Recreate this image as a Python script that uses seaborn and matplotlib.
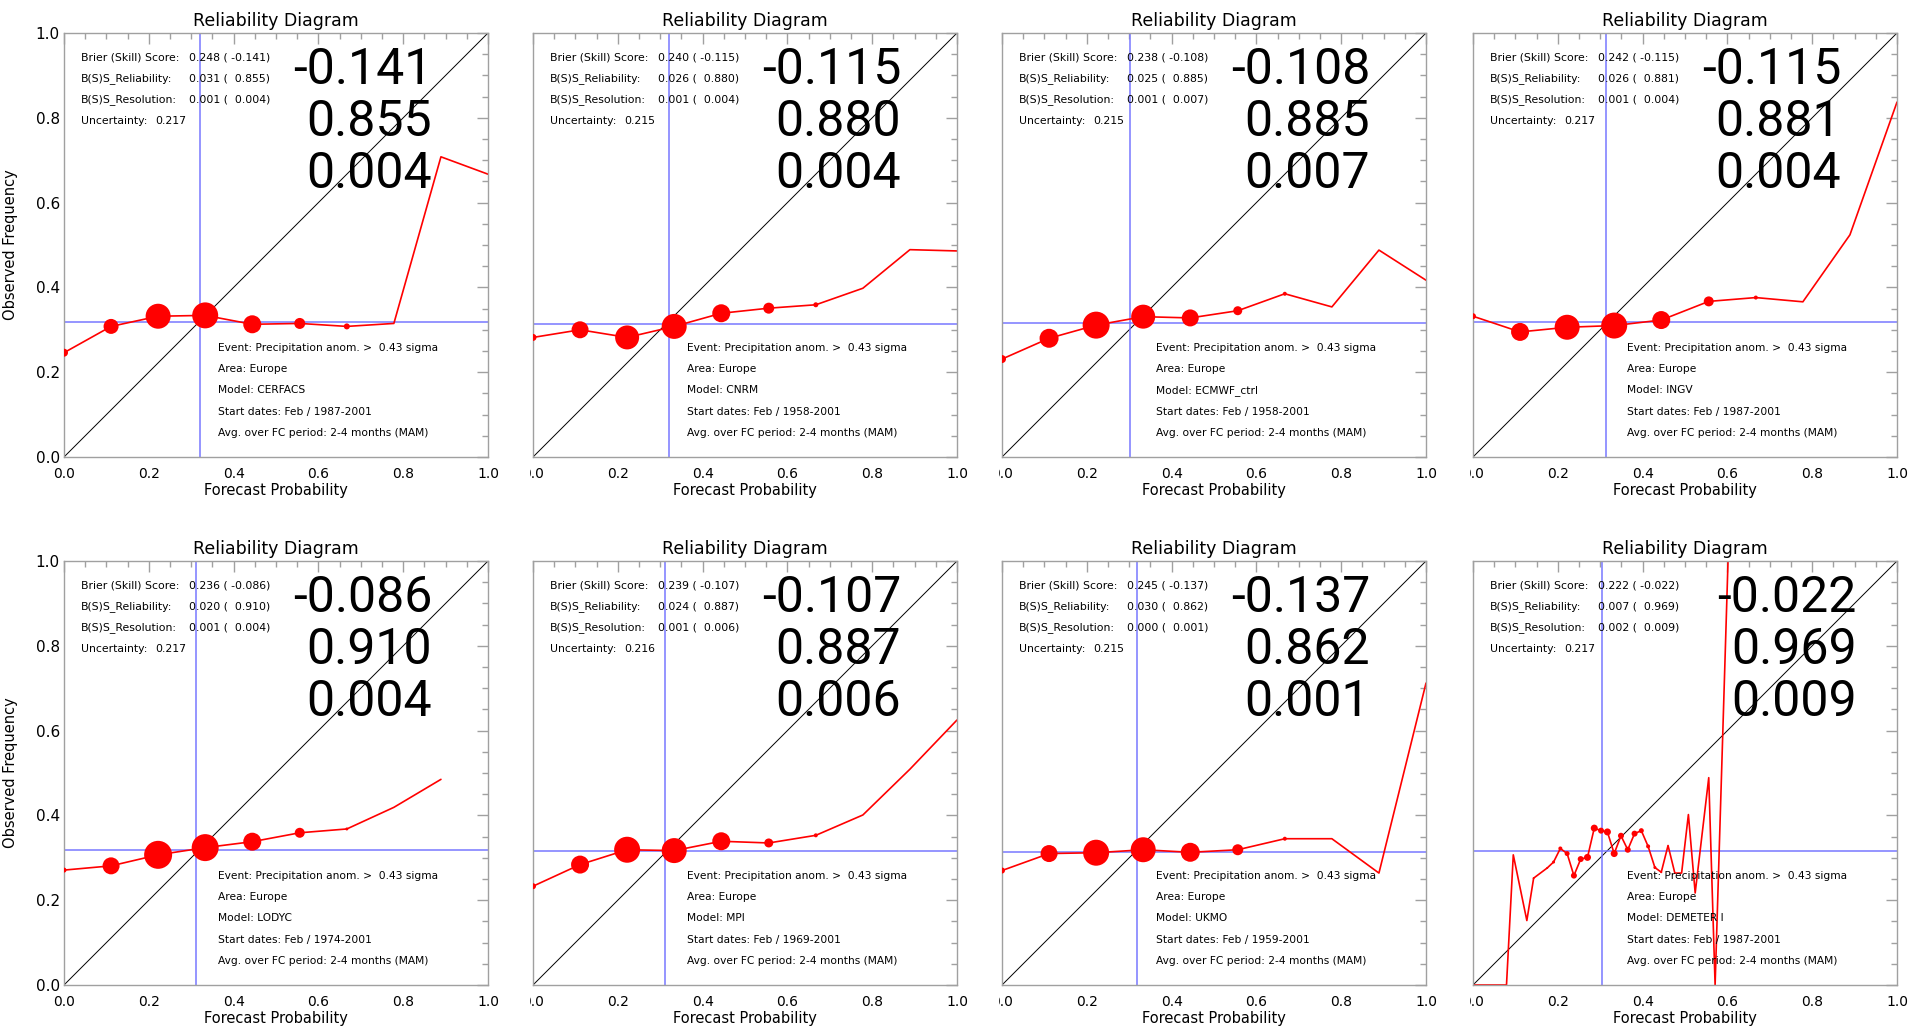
import numpy as np
import pandas as pd
import matplotlib
matplotlib.use('Agg')
import matplotlib.pyplot as plt
import seaborn as sns
from matplotlib.ticker import MultipleLocator, FormatStrFormatter
from matplotlib.transforms import Bbox, TransformedBbox

# Forecast probability bins (9 members -> 10 bins)
prob_bins = [0.0, 0.111, 0.222, 0.333, 0.444, 0.556, 0.667, 0.778, 0.889, 1.0]

# Observed frequency per single model
obs_cerfacs = [0.246, 0.308, 0.332, 0.334, 0.313, 0.315, 0.308, 0.315, 0.708, 0.667]
obs_cnrm = [0.282, 0.300, 0.282, 0.308, 0.339, 0.351, 0.359, 0.398, 0.489, 0.486]
obs_ecmwf = [0.231, 0.280, 0.311, 0.331, 0.328, 0.345, 0.385, 0.354, 0.488, 0.417]
obs_ingv = [0.332, 0.295, 0.306, 0.310, 0.323, 0.367, 0.376, 0.366, 0.524, 0.837]
obs_lodyc = [0.271, 0.281, 0.307, 0.324, 0.338, 0.359, 0.368, 0.419, 0.485]
obs_mpi = [0.233, 0.284, 0.319, 0.317, 0.339, 0.335, 0.353, 0.401, 0.509, 0.625]
obs_ukmo = [0.270, 0.310, 0.312, 0.319, 0.313, 0.319, 0.345, 0.345, 0.264, 0.712]

# Relative number of forecasts per bin (drawn as dot size)
dots_cerfacs = [8, 15, 25, 26, 18, 11, 6, 0, 0, 0]
dots_cnrm = [7, 17, 24, 25, 18, 11, 5, 0, 0, 0]
dots_ecmwf = [8, 19, 27, 24, 17, 9, 4, 0, 0, 0]
dots_ingv = [6, 18, 25, 26, 18, 10, 4, 0, 0, 0]
dots_lodyc = [5, 17, 28, 27, 18, 10, 3, 0, 0]
dots_mpi = [6, 18, 26, 25, 18, 9, 4, 0, 0, 0]
dots_ukmo = [6, 17, 26, 25, 19, 11, 4, 0, 0, 0]

# DEMETER multi-model (63 members)
prob_demeter = [0.0, 0.079, 0.095, 0.127, 0.143, 0.175, 0.190, 0.206, 0.222, 0.238,
                0.254, 0.270, 0.286, 0.302, 0.317, 0.333, 0.349, 0.365, 0.381, 0.397,
                0.413, 0.429, 0.444, 0.460, 0.476, 0.492, 0.508, 0.524, 0.556, 0.571, 0.603]
obs_demeter = [0.0, 0.0, 0.307, 0.152, 0.252, 0.276, 0.290, 0.322, 0.310, 0.258,
               0.297, 0.301, 0.370, 0.364, 0.361, 0.310, 0.352, 0.319, 0.357, 0.364,
               0.327, 0.277, 0.266, 0.329, 0.264, 0.264, 0.402, 0.217, 0.489, 0.0, 1.05]
dots_demeter = [0, 0, 0, 0, 2, 2, 3, 4, 5, 6, 6, 7, 7, 6, 7, 7, 6, 6, 6, 5,
                4, 3, 2, 1, 0, 0, 0, 0, 0, 0, 0]

# Climatology lines
clim_obs = [0.318, 0.314, 0.315, 0.318, 0.319, 0.315, 0.314, 0.317]
clim_fc = [0.320, 0.320, 0.302, 0.313, 0.312, 0.311, 0.318, 0.305]

# Scores
models = ['CERFACS', 'CNRM', 'ECMWF_ctrl', 'INGV', 'LODYC', 'MPI', 'UKMO', 'DEMETER I']
start_years = ['1987-2001', '1958-2001', '1958-2001', '1987-2001',
               '1974-2001', '1969-2001', '1959-2001', '1987-2001']
brier = [0.248, 0.240, 0.238, 0.242, 0.236, 0.239, 0.245, 0.222]
bss = [-0.141, -0.115, -0.108, -0.115, -0.086, -0.107, -0.137, -0.022]
rel = [0.031, 0.026, 0.025, 0.026, 0.020, 0.024, 0.030, 0.007]
rel_ss = [0.855, 0.880, 0.885, 0.881, 0.910, 0.887, 0.862, 0.969]
res = [0.001, 0.001, 0.001, 0.001, 0.001, 0.001, 0.000, 0.002]
res_ss = [0.004, 0.004, 0.007, 0.004, 0.004, 0.006, 0.001, 0.009]
unc = [0.217, 0.215, 0.215, 0.217, 0.217, 0.216, 0.215, 0.217]

probs = [prob_bins] * 4 + [prob_bins[:9], prob_bins, prob_bins, prob_demeter]
obs = [obs_cerfacs, obs_cnrm, obs_ecmwf, obs_ingv, obs_lodyc, obs_mpi, obs_ukmo, obs_demeter]
dots = [dots_cerfacs, dots_cnrm, dots_ecmwf, dots_ingv, dots_lodyc, dots_mpi, dots_ukmo, dots_demeter]

sns.set_style('white')
plt.rcParams['font.family'] = ['DejaVu Sans']
plt.rcParams['text.color'] = 'black'
plt.rcParams['axes.labelcolor'] = 'black'
plt.rcParams['axes.titlecolor'] = 'black'

W, H = 1923, 1029
fig = plt.figure(figsize=(W / 100, H / 100), dpi=100)
col_left = [64, 533, 1002, 1473]
row_bottom = [457, 985]
box = 424
big_x = [0.868] * 7 + [0.905]
grey = '#a0a0a0'
blue = '#7878ff'
axes = []

for i in range(8):
    r, c = divmod(i, 4)
    ax = fig.add_axes([col_left[c] / W, 1 - row_bottom[r] / H, box / W, box / H])
    axes.append((ax, c))
    df = pd.DataFrame({'p': probs[i], 'o': obs[i], 'w': dots[i]})

    ax.plot([0, 1], [0, 1], color='black', lw=0.7, zorder=1)
    ax.axhline(clim_obs[i], color=blue, lw=1.1, zorder=1)
    ax.axvline(clim_fc[i], color=blue, lw=1.1, zorder=1)
    sns.lineplot(data=df, x='p', y='o', ax=ax, color='red', lw=1.2,
                 sort=False, estimator=None, zorder=2)
    sns.scatterplot(data=df, x='p', y='o', ax=ax, color='red',
                    s=(df['w'] * 0.72) ** 2, linewidth=0, zorder=3)

    ax.set_xlim(0, 1)
    ax.set_ylim(0, 1)
    for ax_ in (ax.xaxis, ax.yaxis):
        ax_.set_major_locator(MultipleLocator(0.2))
        ax_.set_minor_locator(MultipleLocator(0.05))
        ax_.set_major_formatter(FormatStrFormatter('%.1f'))
    ax.tick_params(which='both', direction='in', top=True, right=True, color=grey,
                   width=1, labelcolor='black')
    ax.tick_params(which='major', length=8)
    ax.tick_params(which='minor', length=4)
    ax.tick_params(axis='x', labelsize=10, pad=7)
    ax.tick_params(axis='y', labelsize=11, pad=3)
    for s in ax.spines.values():
        s.set_color(grey)
        s.set_linewidth(1)

    ax.set_title('Reliability Diagram', fontsize=12.5, pad=5)
    ax.set_xlabel('Forecast Probability', fontsize=10.5)
    ax.xaxis.set_label_coords(0.5, -0.062)
    if c == 0:
        ax.set_ylabel('Observed Frequency', fontsize=10.5)
        ax.yaxis.set_label_coords(-0.108, 0.5)
    else:
        ax.set_ylabel('')
        ax.tick_params(axis='y', labelleft=False)

    # score box upper left
    labels = ['Brier (Skill) Score:', 'B(S)S_Reliability:', 'B(S)S_Resolution:', 'Uncertainty:']
    values = [f'{brier[i]:.3f} ({bss[i]:7.3f})', f'{rel[i]:.3f} ({rel_ss[i]:7.3f})',
              f'{res[i]:.3f} ({res_ss[i]:7.3f})', f'{unc[i]:.3f}']
    for k in range(4):
        yy = 0.936 - 0.05 * k
        ax.text(0.039, yy, labels[k], transform=ax.transAxes, fontsize=7.8, va='baseline')
        ax.text(0.294 if k < 3 else 0.216, yy, values[k], transform=ax.transAxes,
                fontsize=7.8, va='baseline')

    # big skill numbers
    for k, v in enumerate([bss[i], rel_ss[i], res_ss[i]]):
        ax.text(big_x[i], 0.88 - 0.123 * k, f'{v:.3f}', transform=ax.transAxes,
                fontsize=36, family='Roboto', ha='right', va='baseline')

    # event description lower right
    info = ['Event: Precipitation anom. >  0.43 sigma', 'Area: Europe',
            f'Model: {models[i]}', f'Start dates: Feb / {start_years[i]}',
            'Avg. over FC period: 2-4 months (MAM)']
    for k, t in enumerate(info):
        ax.text(0.364, 0.25 - 0.05 * k, t, transform=ax.transAxes, fontsize=7.7, va='baseline')

# left part of "0.0" is hidden by the neighbouring panel
fig.canvas.draw()
for ax, c in axes:
    if c == 0:
        continue
    clip = TransformedBbox(Bbox([[(col_left[c] - 3) / W, 0], [1, 1]]), fig.transFigure)
    for tick in ax.xaxis.get_major_ticks():
        if tick.label1.get_text() == '0.0':
            tick.label1.set_clip_on(True)
            tick.label1.set_clip_box(clip)

fig.savefig('out.png', dpi=100)
